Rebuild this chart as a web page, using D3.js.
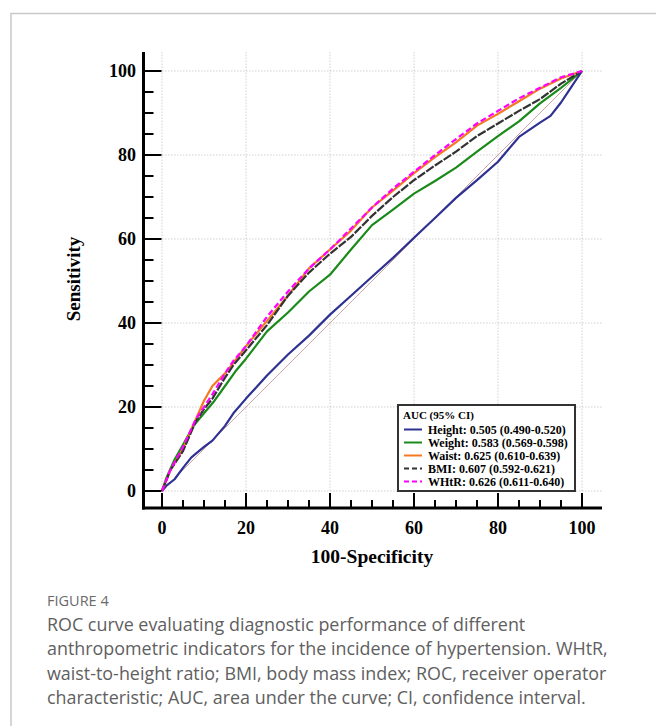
<!DOCTYPE html>
<html><head><meta charset="utf-8">
<script src="https://cdn.jsdelivr.net/npm/d3@7/dist/d3.min.js"></script>
<style>body{margin:0;background:#fff}svg{display:block}</style>
</head><body>
<script>
// ---- data ----
const heightX = [0,1,3,5,7,10,12,15,17,20,25,30,35,40,45,50,55,60,65,70,75,80,85,90,92.5,95,97,100];
const heightY = [0,1.2,2.8,5.5,8,10.5,12,15.5,18.5,22,27.5,32.5,37,42,46.5,51,55.5,60.3,65,69.8,74,78.4,84.3,87.7,89.3,92.5,95.5,100];
const weightX = [0,1,3,5,7.5,10,12.5,15,17.5,20,25,30,35,40,45,50,55,60,65,70,75,80,85,90,95,100];
const weightY = [0,3,7.5,11,15.5,18.5,21.5,25,28.5,31.5,38,42.5,47.5,51.5,57.5,63.3,67,70.8,73.8,77,80.8,84.5,88,92.3,96,100];
const waistX = [0,1,2,5,8,10,12,15,17,20,25,30,35,40,45,50,55,60,65,70,75,80,85,90,95,100];
const waistY = [0,2.5,5,10,17,21.5,25,28,30.5,34.5,40.5,46.5,53,57.5,62,67.5,71.5,75.7,79.5,83,87,89.8,92.8,95.8,98.2,100];
const bmiX = [0,1,2,5,8,10,12,15,17,20,25,30,35,40,45,50,55,60,65,70,75,80,85,90,95,100];
const bmiY = [0,2.5,5,9.5,16.5,19.5,22,27,30,33.5,39.5,46.5,52,56.5,60.5,65.5,70,74,77.5,80.8,84.5,87.5,90.5,93.3,97,100];
const whtrX = [0,1,2,5,8,10,12,15,17,20,25,30,35,40,45,50,55,60,65,70,75,80,85,90,95,100];
const whtrY = [0,2.5,5,10.5,17,20,23,28,31,34.5,41.5,47.5,53,57.5,62.5,67.5,72,76,80,83.8,87.5,90.5,93.5,96,98.5,100];
const refX = [0,100];
const refY = [0,100];
const seriesNames = ["Height","Weight","Waist","BMI","WHtR"];
const seriesLabels = ["Height: 0.505 (0.490-0.520)","Weight: 0.583 (0.569-0.598)","Waist: 0.625 (0.610-0.639)","BMI: 0.607 (0.592-0.621)","WHtR: 0.626 (0.611-0.640)"];
const majorTicks = [0,20,40,60,80,100];
const minorTicks = [5,10,15,25,30,35,45,50,55,65,70,75,85,90,95];
const legendTitle = "AUC (95% CI)";
const xTitle = "100-Specificity";
const yTitle = "Sensitivity";
const figLabel = "FIGURE 4";
const captionLines = [
 "ROC curve evaluating diagnostic performance of different",
 "anthropometric indicators for the incidence of hypertension. WHtR,",
 "waist-to-height ratio; BMI, body mass index; ROC, receiver operator",
 "characteristic; AUC, area under the curve; CI, confidence interval."
];

// ---- styling ----
const colors = ["#2e3192","#1a8a1a","#f47920","#333333","#ff00ff"];
const dashes = [null,null,null,"9,1.5","6,3"];
const xs = [heightX,weightX,waistX,bmiX,whtrX];
const ys = [heightY,weightY,waistY,bmiY,whtrY];

const W=656,H=726;
const svg=d3.select("body").append("svg").attr("width",W).attr("height",H);
svg.append("rect").attr("x",11).attr("y",13.5).attr("width",660).attr("height",740)
  .attr("fill","none").attr("stroke","#c8c8c8").attr("stroke-width",1.5);

const x=d3.scaleLinear().domain([0,100]).range([162,582]);
const y=d3.scaleLinear().domain([0,100]).range([491,71]);
const serif="'Liberation Serif','Times New Roman',serif";

// grid
const gxMax=x.invert(602), gyMax=y.invert(52);
const grid=svg.append("g").attr("stroke","#c4c4c4").attr("stroke-width",0.8).attr("stroke-dasharray","1.5,1.5");
majorTicks.forEach(t=>{
  grid.append("line").attr("x1",x(t)).attr("x2",x(t)).attr("y1",y(0)).attr("y2",y(gyMax));
  grid.append("line").attr("x1",x(0)).attr("x2",x(gxMax)).attr("y1",y(t)).attr("y2",y(t));
});

// reference diagonal
svg.append("path").datum(refX.map((v,i)=>[v,refY[i]]))
  .attr("d",d3.line().x(d=>x(d[0])).y(d=>y(d[1])))
  .attr("fill","none").attr("stroke","#c99a9a").attr("stroke-width",0.9);

// curves
const line=d3.line().x(d=>x(d[0])).y(d=>y(d[1]));
[1,0,2,3,4].forEach(i=>{
  svg.append("path").datum(xs[i].map((v,j)=>[v,ys[i][j]]))
    .attr("d",line).attr("fill","none").attr("stroke",colors[i])
    .attr("stroke-width",2.2).attr("stroke-linejoin","round")
    .attr("stroke-dasharray",dashes[i]);
});

// axes (offset from plot)
const axX=143.5, axY=508;
const yAxis=svg.append("g");
yAxis.append("line").attr("x1",axX).attr("x2",axX).attr("y1",52).attr("y2",axY+1.5).attr("stroke","#000").attr("stroke-width",3);
majorTicks.forEach(t=>{
  yAxis.append("line").attr("x1",axX).attr("x2",axX+18).attr("y1",y(t)).attr("y2",y(t)).attr("stroke","#000").attr("stroke-width",2);
  yAxis.append("text").attr("x",136).attr("y",y(t)).attr("dy","0.35em").attr("text-anchor","end")
    .attr("font-family",serif).attr("font-weight","bold").attr("font-size",18).text(t);
});
minorTicks.forEach(t=>{
  yAxis.append("line").attr("x1",axX).attr("x2",axX+10).attr("y1",y(t)).attr("y2",y(t)).attr("stroke","#000").attr("stroke-width",2);
});
const xAxis=svg.append("g");
xAxis.append("line").attr("x1",axX-1.5).attr("x2",602).attr("y1",axY).attr("y2",axY).attr("stroke","#000").attr("stroke-width",3);
majorTicks.forEach(t=>{
  xAxis.append("line").attr("x1",x(t)).attr("x2",x(t)).attr("y1",axY).attr("y2",axY-15).attr("stroke","#000").attr("stroke-width",2);
  xAxis.append("text").attr("x",x(t)).attr("y",534).attr("text-anchor","middle")
    .attr("font-family",serif).attr("font-weight","bold").attr("font-size",18).text(t);
});
minorTicks.forEach(t=>{
  xAxis.append("line").attr("x1",x(t)).attr("x2",x(t)).attr("y1",axY).attr("y2",axY-8).attr("stroke","#000").attr("stroke-width",2);
});
svg.append("text").attr("x",372).attr("y",563).attr("text-anchor","middle")
  .attr("font-family",serif).attr("font-weight","bold").attr("font-size",19.5).text(xTitle);
svg.append("text").attr("transform","translate(80,279) rotate(-90)").attr("text-anchor","middle")
  .attr("font-family",serif).attr("font-weight","bold").attr("font-size",19).text(yTitle);

// legend
const lg=svg.append("g");
lg.append("rect").attr("x",398).attr("y",405).attr("width",177).attr("height",86)
  .attr("fill","#fff").attr("stroke","#333").attr("stroke-width",2);
lg.append("text").attr("x",403).attr("y",419).attr("font-family",serif).attr("font-weight","bold")
  .attr("font-size",11).text(legendTitle);
seriesNames.forEach((n,i)=>{
  const yy=429.5+13*i;
  lg.append("line").attr("x1",404).attr("x2",422).attr("y1",yy).attr("y2",yy)
    .attr("stroke",colors[i]).attr("stroke-width",2).attr("stroke-dasharray",i>=3?"5,3":null);
  lg.append("text").attr("x",428).attr("y",yy+4).attr("font-family",serif).attr("font-weight","bold")
    .attr("font-size",12).text(seriesLabels[i]);
});

// caption
svg.append("text").attr("x",47).attr("y",606).attr("font-family","'Open Sans',sans-serif")
  .attr("font-size",14.5).attr("fill","#6a6a6a").text(figLabel);
captionLines.forEach((l,i)=>{
  svg.append("text").attr("x",47).attr("y",631+24.3*i).attr("font-family","'Open Sans',sans-serif")
    .attr("font-size",17.9).attr("fill","#606060").text(l);
});
</script>
</body></html>
